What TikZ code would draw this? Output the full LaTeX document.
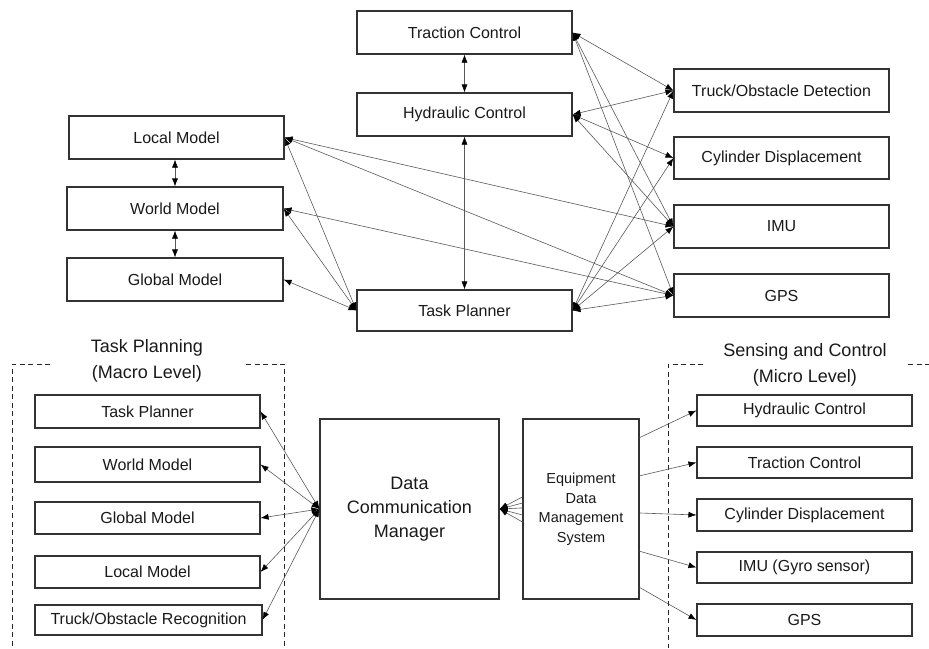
\documentclass[tikz,border=0pt]{standalone}
\usepackage{fontspec}
\setmainfont{Liberation Sans}
\usetikzlibrary{arrows.meta,calc}
\begin{document}
\begin{tikzpicture}[x=1pt,y=-1pt,
  box/.style={draw=black!80,line width=1.1pt,inner sep=0pt,text=black!90,font=\fontsize{16}{19}\selectfont},
  bigbox/.style={draw=black!80,line width=1.1pt,inner sep=0pt,text=black!90,align=center},
  conn/.style={draw=black!65,line width=0.6pt,{Latex[length=8pt,width=6pt,color=black]}-{Latex[length=8pt,width=6pt,color=black]}},
  oneway/.style={draw=black!65,line width=0.6pt,-{Latex[length=8pt,width=6pt,color=black]}},
  region/.style={draw=black!85,line width=0.9pt,dash pattern=on 5pt off 3.5pt},
  title/.style={align=center,text=black!90,font=\fontsize{18}{26}\selectfont}
]
\useasboundingbox (0,0) rectangle (929,648);

% ---------- top part ----------
\node[box,minimum width=215pt,minimum height=43pt] (trac) at (464.5,32.5) {Traction Control};
\node[box,minimum width=215pt,minimum height=43pt] (hyd) at (464.5,114.5) {Hydraulic Control};
\node[box,minimum width=215pt,minimum height=41pt] (tp) at (464.5,310.5) {Task Planner};
\node[box,minimum width=215pt,minimum height=43pt] (truck) at (781.5,90.5) {Truck/Obstacle Detection};
\node[box,minimum width=215pt,minimum height=42pt] (cyl) at (781.5,158) {Cylinder Displacement};
\node[box,minimum width=215pt,minimum height=43pt] (imu) at (781.5,226.5) {IMU};
\node[box,minimum width=215pt,minimum height=43pt] (gps) at (781.5,295.5) {GPS};
\node[box,minimum width=215pt,minimum height=43pt] (local) at (176.5,137.5) {Local Model};
\node[box,minimum width=216pt,minimum height=43pt] (world) at (175,208.5) {World Model};
\node[box,minimum width=216pt,minimum height=43pt] (global) at (175,279.5) {Global Model};

\draw[conn] (world.north |- local.south) -- (world.north);
\draw[conn] (world.south) -- (global.north);
\draw[conn] (trac.south) -- (hyd.north);
\draw[conn] (hyd.south) -- (tp.north);

\draw[conn] (global.east) -- (tp.west);
\draw[conn] (local.east) -- (tp.west);
\draw[conn] (world.east) -- (tp.west);
\draw[conn] (local.east) -- (imu.west);
\draw[conn] (local.east) -- (gps.west);
\draw[conn] (world.east) -- (gps.west);

\draw[conn] (trac.east) -- (truck.west);
\draw[conn] (trac.east) -- (imu.west);
\draw[conn] (trac.east) -- (gps.west);
\draw[conn] (hyd.east) -- (truck.west);
\draw[conn] (hyd.east) -- (cyl.west);
\draw[conn] (hyd.east) -- (imu.west);
\draw[conn] (tp.east) -- (truck.west);
\draw[conn] (tp.east) -- (cyl.west);
\draw[conn] (tp.east) -- (imu.west);
\draw[conn] (tp.east) -- (gps.west);

% ---------- bottom part ----------
\draw[region] (50,364) -- (12,364) -- (12,648);
\draw[region] (246,364) -- (284,364) -- (284,648);
\draw[region] (703,364) -- (668,364) -- (668,648);
\draw[region] (908,364) -- (929,364);

\node[title] (tleft) at (147,361) {Task Planning\\(Macro Level)};
\node[title] (tright) at (805,365) {Sensing and Control\\(Micro Level)};

\node[box,minimum width=225pt,minimum height=33pt] (tpl) at (147.5,411.5) {Task Planner};
\node[box,minimum width=225pt,minimum height=35pt] (wml) at (147.5,464.5) {World Model};
\node[box,minimum width=225pt,minimum height=32pt] (gml) at (147.5,518) {Global Model};
\node[box,minimum width=225pt,minimum height=32pt] (lml) at (147.5,572) {Local Model};
\node[box,minimum width=227pt,minimum height=30pt] (trl) at (148.5,620) {Truck/Obstacle Recognition};

\node[bigbox,minimum width=179pt,minimum height=180pt,font=\fontsize{18}{24}\selectfont] (dcm) at (409.5,509) {Data\\Communication\\Manager};
\node[bigbox,minimum width=116pt,minimum height=180pt,font=\fontsize{14.5}{19.5}\selectfont] (edms) at (581,509) {Equipment\\Data\\Management\\System};

\node[box,minimum width=215pt,minimum height=31pt] (hydr) at (804.5,410.5) {Hydraulic Control};
\node[box,minimum width=215pt,minimum height=31pt] (trr) at (804.5,462.5) {Traction Control};
\node[box,minimum width=215pt,minimum height=32pt] (cylr) at (804.5,515) {Cylinder Displacement};
\node[box,minimum width=215pt,minimum height=31pt] (imur) at (804.5,567.5) {IMU (Gyro sensor)};
\node[box,minimum width=215pt,minimum height=32pt] (gpsr) at (804.5,620) {GPS};

\draw[conn] (dcm.west) -- (tpl.east);
\draw[conn] (dcm.west) -- (wml.east);
\draw[conn] (dcm.west) -- (gml.east);
\draw[conn] (dcm.west) -- (lml.east);
\draw[conn] (dcm.west) -- (trl.east);

\foreach \f in {0.433,0.467,0.494,0.533,0.572}
  \draw[oneway] ($(edms.north west)!\f!(edms.south west)$) -- (dcm.east);

\draw[oneway] ($(edms.north east)!0.106!(edms.south east)$) -- (hydr.west);
\draw[oneway] ($(edms.north east)!0.317!(edms.south east)$) -- (trr.west);
\draw[oneway] ($(edms.north east)!0.522!(edms.south east)$) -- (cylr.west);
\draw[oneway] ($(edms.north east)!0.733!(edms.south east)$) -- (imur.west);
\draw[oneway] ($(edms.north east)!0.933!(edms.south east)$) -- (gpsr.west);
\end{tikzpicture}
\end{document}
